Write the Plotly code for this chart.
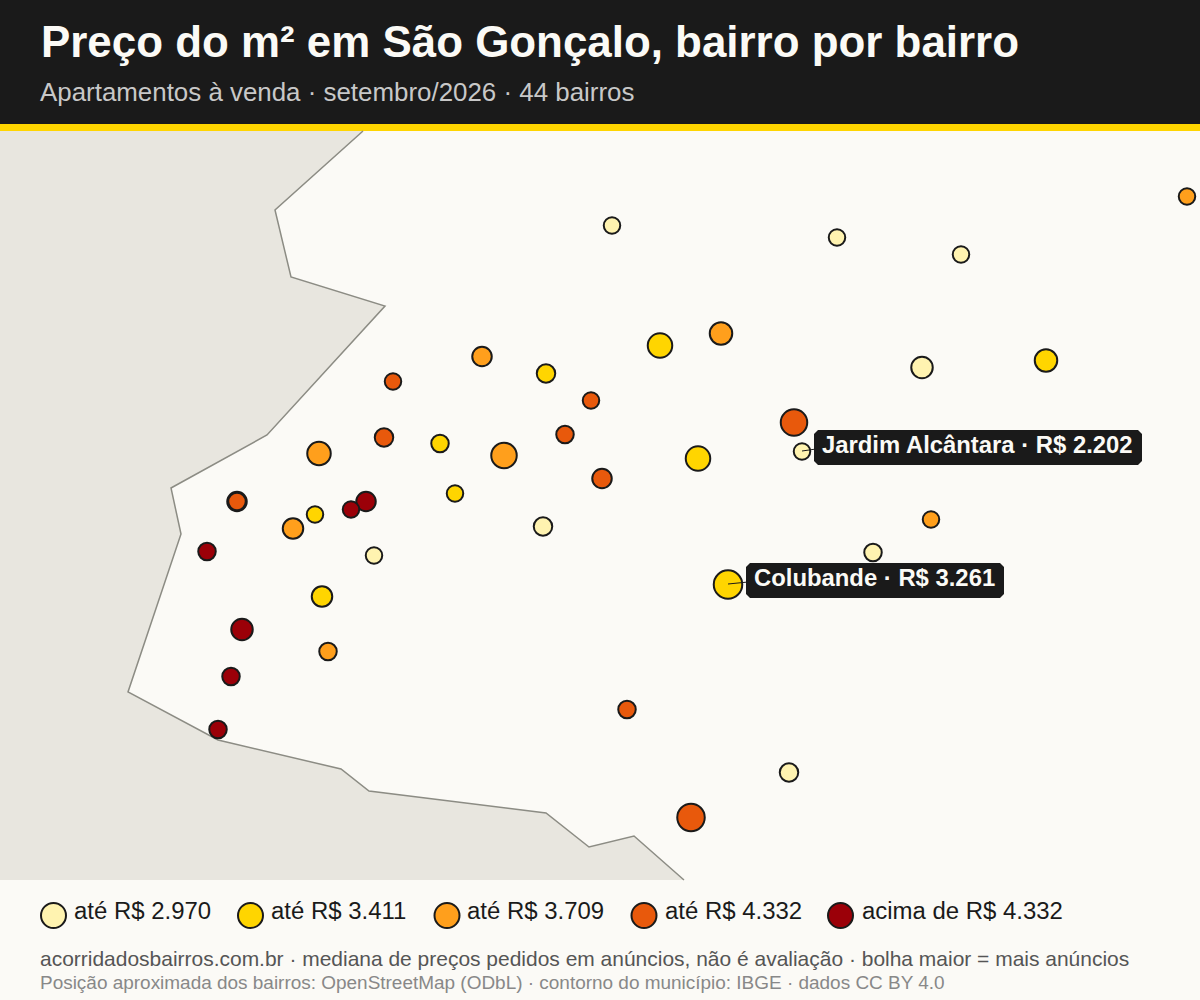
import plotly.graph_objects as go

FONT = "Liberation Sans"

# Paleta
BG = "#FBFAF6"
FORA = "#E8E6DF"
ESCURO = "#1A1A1A"
AMARELO = "#FFD500"
CONTORNO = "#8C8C84"
CORES = ["#FFF3B0", "#FFD500", "#FF9F1C", "#E8590C", "#9B0008"]

# ---------------------------
# DADOS
# ---------------------------

TITULO = "Preço do m² em São Gonçalo, bairro por bairro"
SUBTITULO = "Apartamentos à venda · setembro/2026 · 44 bairros"
RODAPE_1 = "acorridadosbairros.com.br · mediana de preços pedidos em anúncios, não é avaliação · bolha maior = mais anúncios"
RODAPE_2 = "Posição aproximada dos bairros: OpenStreetMap (ODbL) · contorno do município: IBGE · dados CC BY 4.0"

# contorno do município (posição no mapa)
contorno_x = [363, 275, 291, 385, 267, 171, 181, 128, 218, 341, 369, 546, 589, 634, 684]
contorno_y = [131, 210, 277, 306, 435, 488, 534, 692, 740, 769, 791, 813, 847, 836, 880]

bairro_x = [612, 837, 961, 1187, 660, 721, 482, 546, 393, 922, 1046, 591, 794, 802,
            384, 440, 565, 319, 504, 698, 455, 602, 237, 237, 366, 351, 315, 293,
            543, 931, 873, 374, 207, 728, 322, 242, 328, 231, 627, 218, 789, 691]
bairro_y = [225, 237, 254, 196, 345, 333, 356, 373, 381, 367, 360, 400, 422, 451,
            437, 443, 434, 453, 455, 458, 493, 478, 501, 501, 501, 509, 514, 528,
            526, 519, 552, 555, 551, 584, 596, 629, 651, 676, 709, 729, 772, 817]
bairro_diam = [18, 18, 18, 18, 26, 24, 21, 20, 18, 23, 24, 18, 28, 18,
               20, 19, 19, 25, 27, 26, 18, 21, 21, 19, 21, 18, 18, 22,
               20, 18, 19, 18, 19, 30, 22, 23, 19, 19, 19, 19, 20, 29]
bairro_faixa = [0, 0, 0, 2, 1, 2, 2, 1, 3, 0, 1, 3, 3, 0,
                3, 1, 3, 2, 2, 1, 1, 3, 3, 3, 4, 4, 1, 2,
                0, 2, 0, 0, 4, 1, 1, 4, 2, 4, 3, 4, 0, 3]

legenda_textos = ["até R$ 2.970", "até R$ 3.411", "até R$ 3.709", "até R$ 4.332", "acima de R$ 4.332"]
legenda_bolha_x = [53.5, 250.5, 447, 644, 840.5]
legenda_texto_x = [74, 271, 467, 665, 862]

# rótulos: texto, ponto de origem e caixa
rotulos = ["Jardim Alcântara · R$ 2.202", "Colubande · R$ 3.261"]
rotulo_px = [802, 728]
rotulo_py = [451, 584]
rotulo_x0 = [814, 746]
rotulo_x1 = [1142, 1004]
rotulo_y0 = [430, 563]
rotulo_y1 = [465, 598]


def caixa_chanfrada(x0, y0, x1, y1, c=4):
    return (f"M{x0+c},{y0} L{x1-c},{y0} L{x1},{y0+c} L{x1},{y1-c} "
            f"L{x1-c},{y1} L{x0+c},{y1} L{x0},{y1-c} L{x0},{y0+c} Z")


fig = go.Figure()

# ---------------------------
# MAPA
# ---------------------------

# fora do município
fig.add_trace(go.Scatter(
    x=contorno_x + [0, 0],
    y=contorno_y + [880, 131],
    mode="lines",
    fill="toself",
    fillcolor=FORA,
    line=dict(width=0),
    hoverinfo="skip"
))

fig.add_trace(go.Scatter(
    x=contorno_x,
    y=contorno_y,
    mode="lines",
    line=dict(color=CONTORNO, width=1.5),
    hoverinfo="skip"
))

fig.add_trace(go.Scatter(
    x=bairro_x,
    y=[y + 0.5 for y in bairro_y],
    mode="markers",
    marker=dict(
        size=[d - 1.5 for d in bairro_diam],
        color=[CORES[f] for f in bairro_faixa],
        line=dict(color=ESCURO, width=2),
        opacity=1
    ),
    hoverinfo="skip"
))

# legenda
fig.add_trace(go.Scatter(
    x=legenda_bolha_x,
    y=[915.5] * 5,
    mode="markers",
    marker=dict(size=25, color=CORES, line=dict(color=ESCURO, width=2)),
    hoverinfo="skip"
))

# ---------------------------
# FAIXAS
# ---------------------------

shapes = [
    dict(type="rect", x0=0, x1=1200, y0=0, y1=125, fillcolor=ESCURO, line_width=0, layer="below"),
    dict(type="rect", x0=0, x1=1200, y0=124, y1=131, fillcolor=AMARELO, line_width=0, layer="below"),
]

for i in range(len(rotulos)):
    shapes.append(dict(type="line", x0=rotulo_px[i], y0=rotulo_py[i], x1=rotulo_x0[i] + 2,
                       y1=(rotulo_py[i] - 2), line=dict(color=ESCURO, width=1)))
    shapes.append(dict(type="path", path=caixa_chanfrada(rotulo_x0[i], rotulo_y0[i], rotulo_x1[i], rotulo_y1[i]),
                       fillcolor=ESCURO, line_width=0))

# ---------------------------
# TEXTOS
# ---------------------------

def texto(x, y, s, size, color, bold=False):
    return dict(x=x, y=y, text=f"<b>{s}</b>" if bold else s, showarrow=False,
                xanchor="left", yanchor="middle", align="left",
                font=dict(family=FONT, size=size, color=color))


annotations = [
    texto(39, 41, TITULO, 43.9, BG, True),
    texto(38, 92, SUBTITULO, 25.9, "#C8C8C8"),
    texto(38, 958, RODAPE_1, 20.97, "#555555"),
    texto(38, 982, RODAPE_2, 18.97, "#888888"),
]

for i in range(len(legenda_textos)):
    annotations.append(texto(legenda_texto_x[i] - 2, 910.5, legenda_textos[i], 23.95, ESCURO))

for i in range(len(rotulos)):
    annotations.append(texto(rotulo_x0[i] + 6, (rotulo_y0[i] + rotulo_y1[i]) / 2 - 3, rotulos[i], 23.85, BG, True))

fig.update_layout(
    width=1200,
    height=1000,
    margin=dict(l=0, r=0, t=0, b=0),
    paper_bgcolor=BG,
    plot_bgcolor=BG,
    showlegend=False,
    shapes=shapes,
    annotations=annotations,
    xaxis=dict(range=[0, 1200], visible=False, fixedrange=True),
    yaxis=dict(range=[1000, 0], visible=False, fixedrange=True)
)

fig.write_html("out.html", config=dict(displayModeBar=False),
               post_script="document.body.style.margin='0';")
